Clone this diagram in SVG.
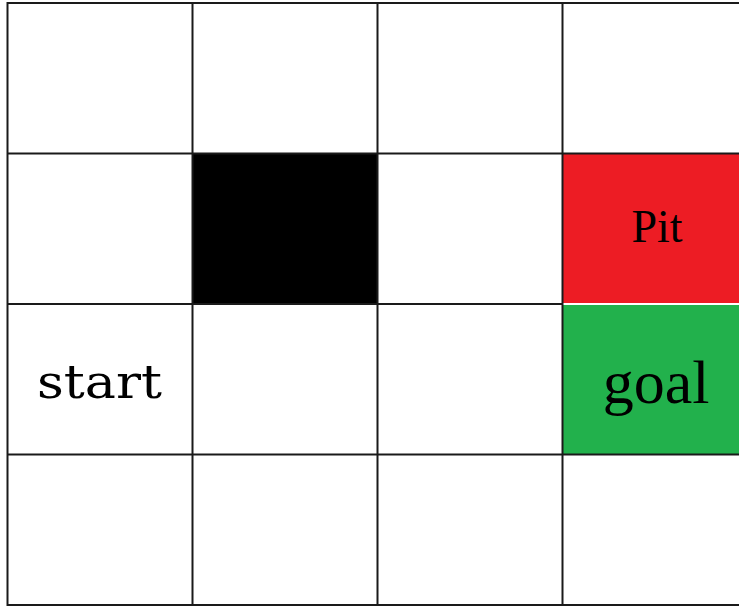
<svg xmlns="http://www.w3.org/2000/svg" width="739" height="607" viewBox="0 0 739 607">
<style>
.ln{stroke:#1a1a1a;stroke-width:2;fill:none}
.lbl{font-family:"Liberation Serif","Times New Roman",serif;fill:#000}
</style>
<rect x="0" y="0" width="739" height="607" fill="#ffffff"/>
<g id="wall"><rect x="193" y="154" width="185" height="150" fill="#000000"/></g>
<g id="pit"><rect x="563" y="154" width="176" height="149" fill="#ED1C24"/>
<text class="lbl" x="657" y="242" font-size="46" text-anchor="middle">Pit</text></g>
<g id="goal"><rect x="563" y="305" width="176" height="149" fill="#22B14C"/>
<text class="lbl" x="656" y="403" font-size="62" text-anchor="middle">goal</text></g>
<g id="start"><text x="37" y="398" font-size="47" font-family="'DejaVu Serif',serif" fill="#000" textLength="125" lengthAdjust="spacingAndGlyphs">start</text></g>
<g id="grid">
<line class="ln" x1="7" y1="3" x2="739" y2="3"/>
<line class="ln" x1="7" y1="153.5" x2="739" y2="153.5"/>
<line class="ln" x1="7" y1="304" x2="563" y2="304"/>
<line class="ln" x1="7" y1="454.5" x2="739" y2="454.5"/>
<line class="ln" x1="7" y1="605" x2="739" y2="605"/>
<line class="ln" x1="7.5" y1="2" x2="7.5" y2="606"/>
<line class="ln" x1="192.5" y1="2" x2="192.5" y2="606"/>
<line class="ln" x1="377.5" y1="2" x2="377.5" y2="606"/>
<line class="ln" x1="562.5" y1="2" x2="562.5" y2="606"/>
</g>
</svg>
